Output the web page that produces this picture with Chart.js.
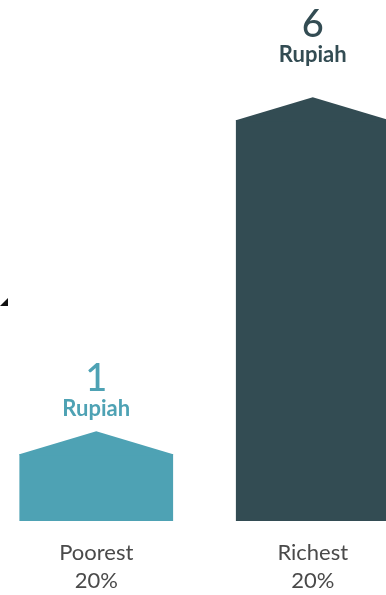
<!DOCTYPE html>
<html>
<head>
<meta charset="utf-8">
<script src="https://cdn.jsdelivr.net/npm/chart.js@4/dist/chart.umd.min.js"></script>
<style>
  html, body { margin: 0; padding: 0; background: #ffffff; overflow: hidden; }
  #wrap { position: relative; width: 386px; height: 595px; overflow: hidden; }
  #wrap canvas { position: absolute; left: -12px; top: 0; }
</style>
</head>
<body>
<div id="wrap"><canvas id="c" width="433" height="595"></canvas></div>
<script>
// Money received per group
const groups = [["Poorest", "20%"], ["Richest", "20%"]];
const amounts = [1, 6];
const unitLabel = "Rupiah";
const barColors = ["#4ea2b4", "#334c53"];

// Draws the pitched roof on each bar, the value labels and the small corner mark
const houseBars = {
  id: "houseBars",
  afterDatasetsDraw(chart, args, opts) {
    const ctx = chart.ctx;
    const meta = chart.getDatasetMeta(0);
    meta.data.forEach((bar, i) => {
      const half = bar.width / 2;
      const topY = bar.y;
      const peakY = topY - opts.roof;
      ctx.save();
      ctx.fillStyle = barColors[i];
      ctx.beginPath();
      ctx.moveTo(bar.x - half, topY + 1);
      ctx.lineTo(bar.x - half, topY);
      ctx.lineTo(bar.x, peakY);
      ctx.lineTo(bar.x + half, topY);
      ctx.lineTo(bar.x + half, topY + 1);
      ctx.closePath();
      ctx.fill();

      // value and unit above the roof
      const gap = opts.gaps[i];
      ctx.textAlign = "center";
      ctx.textBaseline = "middle";
      ctx.fillStyle = barColors[i];
      ctx.font = "bold 22px Lato";
      ctx.fillText(unitLabel, bar.x, peakY - gap);
      ctx.font = "500 38px Lato";
      ctx.fillText(String(amounts[i]), bar.x, peakY - gap - 30);
      ctx.restore();
    });

    // small dark corner mark at the left edge
    ctx.save();
    ctx.fillStyle = "#111111";
    ctx.beginPath();
    ctx.moveTo(12, 306);
    ctx.lineTo(20, 298);
    ctx.lineTo(20, 306);
    ctx.closePath();
    ctx.fill();
    ctx.restore();
  }
};

new Chart(document.getElementById("c"), {
  type: "bar",
  data: {
    labels: groups,
    datasets: [{
      data: amounts,
      backgroundColor: barColors,
      borderWidth: 0,
      categoryPercentage: 1,
      barPercentage: 0.71
    }]
  },
  options: {
    responsive: false,
    animation: false,
    layout: { padding: 0 },
    plugins: {
      legend: { display: false },
      tooltip: { enabled: false },
      houseBars: { roof: 23, gaps: [22, 42] }
    },
    scales: {
      x: {
        grid: { display: false, drawTicks: false },
        border: { display: false },
        afterFit(scale) { scale.height = 74; },
        ticks: {
          color: "#4a4a4a",
          padding: 18,
          font: { family: "Lato", size: 22, lineHeight: 1.27 }
        }
      },
      y: {
        display: false,
        min: 0,
        max: 7.8
      }
    }
  },
  plugins: [houseBars]
});
</script>
</body>
</html>
